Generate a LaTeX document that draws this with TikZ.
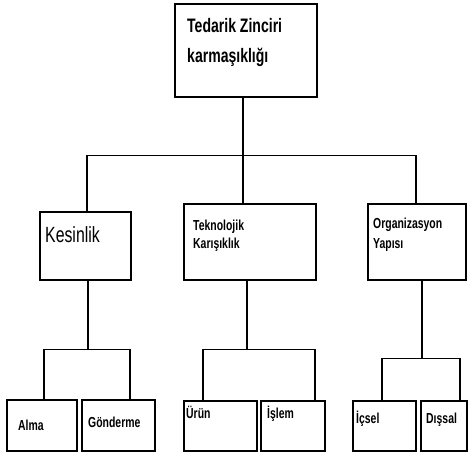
\documentclass[tikz,border=0pt]{standalone}
\usepackage{fontspec}
\setmainfont{Liberation Sans}[FakeStretch=0.72]
\begin{document}
\begin{tikzpicture}[x=1pt,y=-1pt,
  box/.style={draw=black,line width=1.2pt,rectangle,inner sep=0pt},
  ln/.style={draw=black,line width=1.2pt},
  big/.style={anchor=base west,inner sep=0pt,font=\fontsize{19.5}{22}\selectfont\bfseries},
  kes/.style={anchor=base west,inner sep=0pt,font=\fontsize{22}{24}\selectfont},
  sm/.style={anchor=base west,inner sep=0pt,font=\fontsize{14.5}{16}\selectfont\bfseries}]
\useasboundingbox (0,0) rectangle (475,456);
% boxes
\node[box,minimum width=142pt,minimum height=93pt] (top) at (246,50.5) {};
\node[box,minimum width=91pt,minimum height=68pt] (kesb) at (85.5,246) {};
\node[box,minimum width=132pt,minimum height=76pt] (tek) at (250,242) {};
\node[box,minimum width=98pt,minimum height=76pt] (org) at (417,242) {};
\node[box,minimum width=70pt,minimum height=51pt] (alma) at (42,425.5) {};
\node[box,minimum width=73pt,minimum height=51pt] (gon) at (118.5,425.5) {};
\node[box,minimum width=73pt,minimum height=50pt] (urun) at (220.5,426) {};
\node[box,minimum width=64pt,minimum height=50pt] (islem) at (293,426) {};
\node[box,minimum width=63pt,minimum height=50pt] (icsel) at (384.5,426) {};
\node[box,minimum width=46pt,minimum height=50pt] (dissal) at (444,426) {};
% texts
\node[big] (t1) at (187,32) {Tedarik Zinciri};
\node[big] (t2) at (187,62) {karmaşıklığı};
\node[kes] (t3) at (45,242) {Kesinlik};
\node[sm] (t4) at (193,230) {Teknolojik};
\node[sm] (t5) at (193,248) {Karışıklık};
\node[sm] (t6) at (373,228) {Organizasyon};
\node[sm] (t7) at (373,248) {Yapısı};
\node[sm] (t8) at (18,430) {Alma};
\node[sm] (t9) at (88,427) {Gönderme};
\node[sm] (t10) at (186,418) {Ürün};
\node[sm] (t11) at (267,418) {İşlem};
\node[sm] (t12) at (356,423) {İçsel};
\node[sm] (t13) at (426,423) {Dışsal};
% connectors
\draw[ln] ([xshift=-3pt]top.south) -- ++(0,58) coordinate (bar);
\draw[ln] ([xshift=1.5pt]kesb.north) |- (bar) -| ([xshift=-1pt]org.north);
\draw[ln] ([xshift=-7pt]tek.north) -- ([xshift=-7pt]tek.north |- bar);
\draw[ln] ([xshift=2.5pt]kesb.south) -- ++(0,69) coordinate (b1);
\draw[ln] ([xshift=2pt]alma.north) |- (b1) -| ([xshift=11.5pt]gon.north);
\draw[ln] ([xshift=-3pt]tek.south) -- ++(0,69) coordinate (b2);
\draw[ln] ([xshift=-17.5pt]urun.north) |- (b2) -| ([xshift=22pt]islem.north);
\draw[ln] ([xshift=5pt]org.south) -- ++(0,78) coordinate (b3);
\draw[ln] ([xshift=-2.5pt]icsel.north) |- (b3) -| ([xshift=16pt]dissal.north);
\end{tikzpicture}
\end{document}
